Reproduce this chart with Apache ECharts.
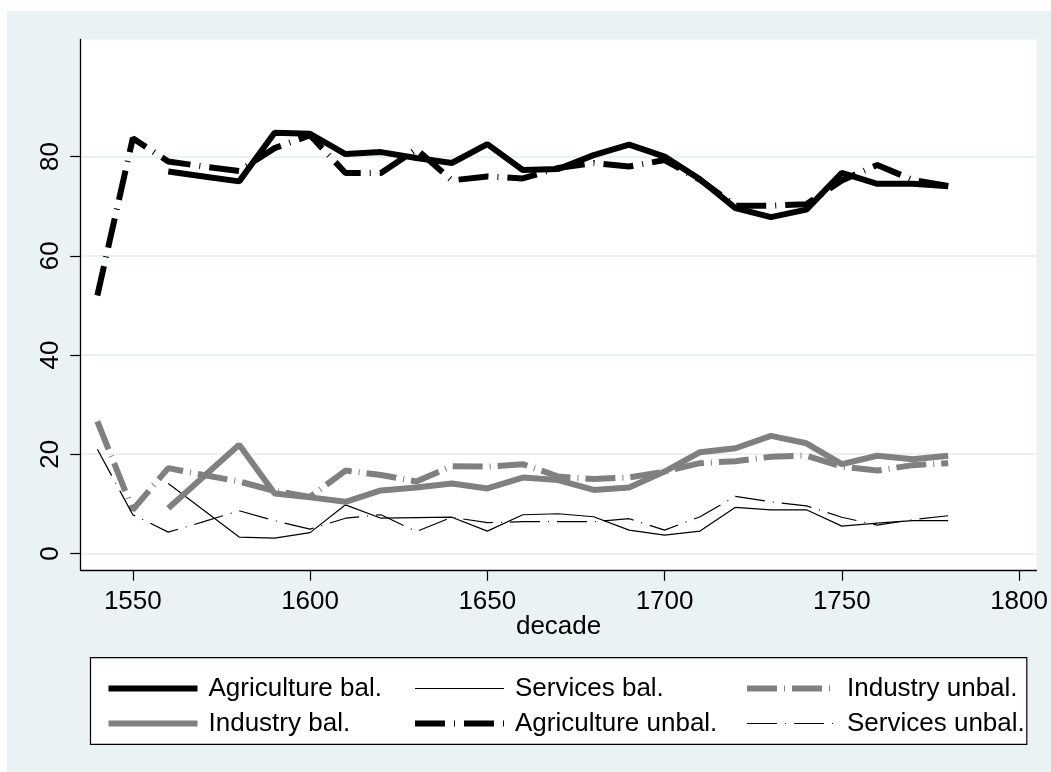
<!DOCTYPE html>
<html>
<head>
<meta charset="utf-8">
<script src="https://cdn.jsdelivr.net/npm/echarts@6/dist/echarts.min.js"></script>
<style>
html,body{margin:0;padding:0;background:#fff;}
#chart{width:1051px;height:772px;}
</style>
</head>
<body>
<div id="chart"></div>
<script>
// ---- data ----
const decades = [1540,1550,1560,1570,1580,1590,1600,1610,1620,1630,1640,1650,1660,1670,1680,1690,1700,1710,1720,1730,1740,1750,1760,1770,1780];
const agriBal   = [null,null,77.0,76.0,75.0,84.8,84.6,80.5,80.9,79.7,78.7,82.5,77.3,77.5,80.3,82.4,80.0,75.4,69.6,67.8,69.3,76.7,74.5,74.5,74.0];
const servBal   = [null,null,14.1,8.7,3.3,3.1,4.2,9.8,7.1,7.2,7.3,4.5,7.8,8.0,7.4,4.7,3.7,4.5,9.3,8.8,8.8,5.5,6.1,6.6,6.6];
const indUnbal  = [26.6,8.8,17.2,15.8,14.5,12.6,11.4,16.7,15.8,14.5,17.6,17.5,18.0,15.5,15.0,15.3,16.5,18.2,18.6,19.5,19.7,17.5,16.7,17.8,18.2];
const indBal    = [null,null,9.1,15.5,21.9,12.1,11.3,10.4,12.7,13.3,14.1,13.1,15.3,14.8,12.8,13.3,16.5,20.4,21.2,23.7,22.2,18.0,19.7,19.0,19.7];
const agriUnbal = [52.0,83.7,79.0,78.0,77.1,81.7,84.3,76.7,76.7,81.5,75.2,76.0,75.6,77.7,78.7,78.0,79.3,75.3,70.1,70.1,70.4,75.2,78.3,75.3,74.1];
const servUnbal = [21.0,7.8,4.3,6.4,8.6,6.6,4.9,7.1,7.8,4.4,7.3,6.2,6.4,6.4,6.4,7.0,4.7,7.4,11.5,10.4,9.6,7.3,5.7,6.8,7.6];
const seriesNames = ['Agriculture bal.','Services bal.','Industry unbal.','Industry bal.','Agriculture unbal.','Services unbal.'];
const xTicks = [1550,1600,1650,1700,1750,1800];
const yTicks = [0,20,40,60,80];

const FONT = 'Liberation Sans, Arial, Helvetica, sans-serif';
const BLACK = '#000000';
const GRAY = '#808080';

function pairs(vals){ return decades.map((d,i)=>[d, vals[i]]); }

function mk(name, vals, color, width, dash, z){
  return {
    name: name, type: 'line', data: pairs(vals), symbol: 'none', showSymbol: false,
    connectNulls: false, z: z, animation: false,
    lineStyle: {color: color, width: width, type: dash, cap: 'butt', join: 'bevel'},
    itemStyle: {color: color}
  };
}

const chart = echarts.init(document.getElementById('chart'), null, {renderer: 'canvas'});

const legendCommon = {
  orient: 'vertical', itemWidth: 89, itemHeight: 30, itemGap: 5, top: 668.5,
  itemStyle: {opacity: 0},
  lineStyle: {width: 'inherit', type: 'inherit', color: 'inherit', cap: 'butt'},
  textStyle: {fontFamily: FONT, fontSize: 26, color: '#000', lineHeight: 30, padding: [0,0,0,6]},
  selectedMode: false, z: 10
};

const option = {
  backgroundColor: '#eaf2f3',
  animation: false,
  textStyle: {fontFamily: FONT},
  graphic: [
    {type: 'rect', shape: {x: 0, y: 0, width: 1051, height: 11}, style: {fill: '#ffffff'}, silent: true, z: 0},
    {type: 'rect', shape: {x: 0, y: 0, width: 7, height: 772}, style: {fill: '#ffffff'}, silent: true, z: 0},
    {type: 'rect', shape: {x: 90.5, y: 657.7, width: 936.3, height: 86.6}, style: {fill: '#ffffff', stroke: '#000', lineWidth: 1.2}, silent: true, z: 1}
  ],
  grid: {left: 80.7, top: 39.5, right: 14.3, bottom: 201.7, show: true, backgroundColor: '#ffffff', borderWidth: 0, containLabel: false},
  xAxis: {
    type: 'value', min: 1535.3, max: 1804.9,
    name: 'decade', nameLocation: 'middle', nameGap: 44, nameMoveOverlap: false,
    nameTextStyle: {fontFamily: FONT, fontSize: 26, color: '#000'},
    axisLine: {show: true, onZero: false, lineStyle: {color: '#000', width: 1.3}},
    axisTick: {show: true, length: 10.5, lineStyle: {color: '#000', width: 1.2}, customValues: xTicks},
    axisLabel: {show: true, fontFamily: FONT, fontSize: 26, color: '#000', margin: 19, customValues: xTicks, formatter: v => String(v)},
    splitLine: {show: false}
  },
  yAxis: {
    type: 'value', min: -3.4, max: 103.6,
    axisLine: {show: true, onZero: false, lineStyle: {color: '#000', width: 1.3}},
    axisTick: {show: true, length: 10.5, lineStyle: {color: '#000', width: 1.2}, customValues: yTicks},
    axisLabel: {show: true, rotate: 90, fontFamily: FONT, fontSize: 26, color: '#000', margin: 17, customValues: yTicks, formatter: v => String(v)},
    splitLine: {show: true, lineStyle: {color: '#eaf2f3', width: 2}}
  },
  legend: [
    Object.assign({}, legendCommon, {left: 100.5, data: [seriesNames[0], seriesNames[3]]}),
    Object.assign({}, legendCommon, {left: 407, data: [seriesNames[1], seriesNames[4]]}),
    Object.assign({}, legendCommon, {left: 739, data: [seriesNames[2], seriesNames[5]]})
  ],
  series: [
    mk(seriesNames[0], agriBal, BLACK, 6, 'solid', 3),
    mk(seriesNames[1], servBal, BLACK, 1.2, 'solid', 3),
    mk(seriesNames[2], indUnbal, GRAY, 6, [30, 7, 1, 7], 3),
    mk(seriesNames[3], indBal, GRAY, 6, 'solid', 3),
    mk(seriesNames[4], agriUnbal, BLACK, 6, [30, 9, 1, 9], 3),
    mk(seriesNames[5], servUnbal, BLACK, 1.2, [30, 8, 1, 8], 3)
  ]
};
chart.setOption(option);
</script>
</body>
</html>
